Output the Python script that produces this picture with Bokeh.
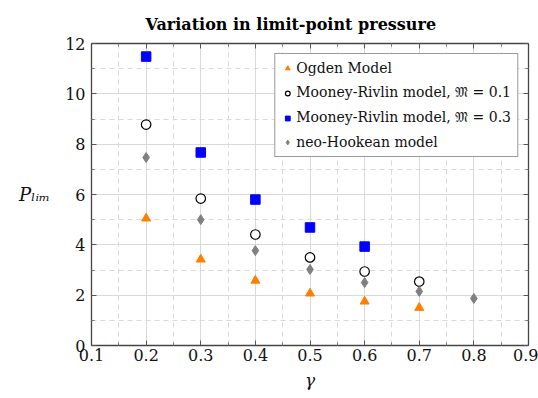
from bokeh.plotting import figure
from bokeh.models import LinearAxis, Range1d, Legend, LegendItem, FixedTicker, Title
from bokeh.embed import file_html
from bokeh.resources import INLINE

gamma_ogden = [0.2, 0.3, 0.4, 0.5, 0.6, 0.7]
p_ogden = [5.05, 3.42, 2.58, 2.07, 1.75, 1.50]
gamma_mr1 = [0.2, 0.3, 0.4, 0.5, 0.6, 0.7]
p_mr1 = [8.78, 5.84, 4.41, 3.50, 2.94, 2.54]
gamma_mr3 = [0.2, 0.3, 0.4, 0.5, 0.6]
p_mr3 = [11.48, 7.67, 5.80, 4.69, 3.93]
gamma_nh = [0.2, 0.3, 0.4, 0.5, 0.6, 0.7, 0.8]
p_nh = [7.47, 5.00, 3.77, 3.02, 2.50, 2.15, 1.87]
labels = ["Ogden Model", "Mooney-Rivlin model, 𝔐 = 0.1",
          "Mooney-Rivlin model, 𝔐 = 0.3", "neo-Hookean model"]
x_ticks = [0.1, 0.2, 0.3, 0.4, 0.5, 0.6, 0.7, 0.8, 0.9]
y_ticks = [0, 2, 4, 6, 8, 10, 12]
x_label = "γ"
y_label = "Pₗᵢₘ"

FONT = "DejaVu Serif"

p = figure(width=538, height=398, output_backend="svg", toolbar_location=None,
           x_range=Range1d(0.1, 0.9), y_range=Range1d(0, 12),
           min_border_left=91, min_border_right=10, min_border_top=43,
           min_border_bottom=53)
p.title = Title(text="Variation in limit-point pressure", align="left", offset=54,
                standoff=20,
                text_font=FONT, text_font_size="16px", text_font_style="bold",
                text_color="#000000")
p.background_fill_color = "white"
p.border_fill_color = "white"
p.outline_line_color = None

def style_axis(ax, show_labels):
    ax.axis_line_color = "#444444"
    ax.axis_line_width = 1.3
    ax.major_tick_in = 5
    ax.major_tick_out = 0
    ax.minor_tick_in = 3
    ax.minor_tick_out = 0
    ax.major_tick_line_color = "#555555"
    ax.minor_tick_line_color = "#777777"
    ax.major_label_text_font = FONT
    ax.major_label_text_font_size = "16px"
    ax.major_label_text_color = "#111111"
    if not show_labels:
        ax.major_label_text_font_size = "0px"
        ax.major_label_text_alpha = 0

xt = FixedTicker(ticks=x_ticks, minor_ticks=[0.15 + 0.1 * i for i in range(8)])
yt = FixedTicker(ticks=y_ticks, minor_ticks=[1, 3, 5, 7, 9, 11])

p.xaxis.ticker = xt
p.yaxis.ticker = yt
style_axis(p.xaxis[0], True)
style_axis(p.yaxis[0], True)
p.xaxis.major_label_standoff = 3
p.yaxis.major_label_standoff = 6

p.xaxis.axis_label = x_label
p.xaxis.axis_label_text_font = FONT
p.xaxis.axis_label_text_font_style = "italic"
p.xaxis.axis_label_text_font_size = "17px"
p.xaxis.axis_label_text_color = "#111111"
p.xaxis.axis_label_standoff = 6

p.yaxis.axis_label = y_label
p.yaxis.axis_label_orientation = "horizontal"
p.yaxis.axis_label_text_font = FONT
p.yaxis.axis_label_text_font_style = "italic"
p.yaxis.axis_label_text_font_size = "18px"
p.yaxis.axis_label_text_color = "#111111"
p.yaxis.axis_label_standoff = 12

top = LinearAxis(ticker=xt)
style_axis(top, False)
right = LinearAxis(ticker=yt)
style_axis(right, False)
p.add_layout(top, "above")
p.add_layout(right, "right")

for g in (p.xgrid[0], p.ygrid[0]):
    g.grid_line_color = "#d9d9d9"
    g.grid_line_width = 1
    g.minor_grid_line_color = "#d9d9d9"
    g.minor_grid_line_dash = "5 4"
    g.minor_grid_line_width = 1

r1 = p.scatter(gamma_ogden, p_ogden, marker="triangle", size=9,
               fill_color="#ff7f00", line_color="#ff7f00")
r2 = p.scatter(gamma_mr1, p_mr1, marker="circle", size=9.5,
               fill_color="white", line_color="black", line_width=1.2)
r3 = p.scatter(gamma_mr3, p_mr3, marker="square", size=9.5,
               fill_color="#0000ff", line_color="#0000ff")
r4 = p.scatter(gamma_nh, p_nh, marker="diamond", size=10,
               fill_color="#808080", line_color="#808080")

legend = Legend(items=[LegendItem(label=labels[i], renderers=[r]) for i, r in enumerate([r1, r2, r3, r4])],
                location="top_right")
legend.label_text_font = FONT
legend.label_text_font_size = "14px"
legend.label_text_color = "#111111"
legend.border_line_color = "#333333"
legend.border_line_width = 1
legend.background_fill_alpha = 1
legend.glyph_width = 12
legend.glyph_height = 16
legend.label_standoff = 3
legend.spacing = 8
legend.padding = 6
legend.margin = 10
legend.label_height = 16
p.add_layout(legend, "center")

open("out.html", "w").write(file_html(p, INLINE))
